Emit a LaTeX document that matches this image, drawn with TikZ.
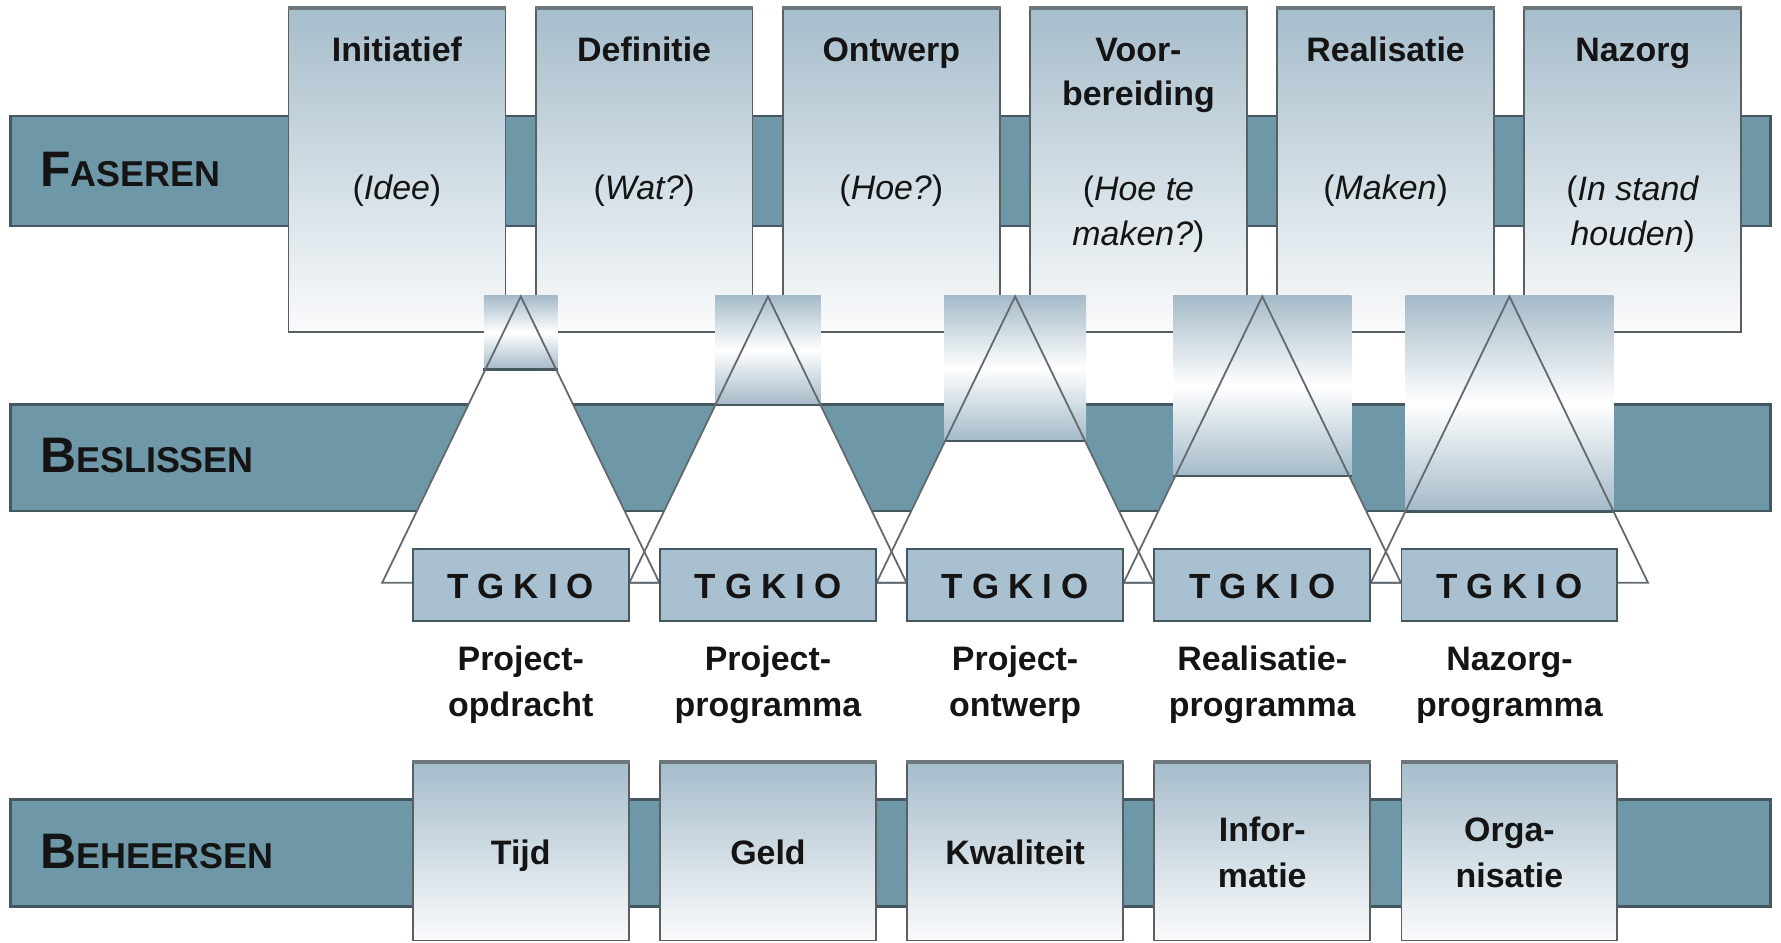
\documentclass[tikz,border=0pt]{standalone}
\usepackage{fontspec}
\setmainfont{Liberation Sans}
\definecolor{barfill}{HTML}{6E98A8}
\definecolor{bardraw}{HTML}{455860}
\definecolor{boxtop}{HTML}{A6BDCB}
\definecolor{boxbot}{HTML}{FAFBFC}
\definecolor{boxdraw}{HTML}{5A5F62}
\definecolor{boxedge}{HTML}{6C767B}
\definecolor{tgfill}{HTML}{A8C0CF}
\definecolor{beam}{HTML}{A4BAC8}
\definecolor{triline}{HTML}{626A6F}
\definecolor{ink}{HTML}{141414}
\begin{document}
\begin{tikzpicture}[x=0.02cm,y=-0.02cm,
  barnode/.style={draw=bardraw,fill=barfill,line width=1.2pt,minimum width=31cm,inner sep=0pt},
  phasebox/.style={draw=boxdraw,line width=0.9pt,top color=boxtop,bottom color=boxbot,minimum width=3.82cm,minimum height=5.68cm,inner sep=0pt},
  tgbox/.style={draw=bardraw,line width=0.9pt,fill=tgfill,minimum width=3.8cm,minimum height=1.28cm,inner sep=0pt},
  ctrlbox/.style={draw=boxdraw,line width=0.9pt,top color=boxtop,bottom color=boxbot,minimum width=3.8cm,minimum height=3.12cm,inner sep=0pt},
  beambox/.style={top color=beam,bottom color=beam,middle color=white,inner sep=0pt},
  beamline/.style={draw=bardraw,line width=1.1pt},
  topedge/.style={draw=boxedge,line width=2pt},
  trifill/.style={fill=white},
  triline/.style={draw=triline,line width=0.9pt,line join=miter},
  barlbl/.style={anchor=base west,inner sep=0pt,text=ink,font=\bfseries},
  phtitle/.style={anchor=base,inner sep=0pt,text=ink,align=center,font=\fontsize{17}{22.2}\selectfont\bfseries},
  phsub/.style={anchor=base,inner sep=0pt,text=ink,align=center,font=\fontsize{17}{22.7}\selectfont},
  tgtext/.style={anchor=base,inner sep=0pt,text=ink,font=\fontsize{17.5}{20}\selectfont\bfseries},
  doclbl/.style={anchor=base,inner sep=0pt,text=ink,align=center,font=\fontsize{17}{23.2}\selectfont\bfseries},
  ctrltext/.style={anchor=base,inner sep=0pt,text=ink,align=center,font=\fontsize{17}{22.7}\selectfont\bfseries}
]
\useasboundingbox (0,0) rectangle (1568,830);

% bars
\node[barnode,minimum height=1.94cm] (fbar) at (784,150.5) {};
\node[barnode,minimum height=1.88cm] (bbar) at (784,403) {};
\node[barnode,minimum height=1.88cm] (hbar) at (784,751) {};

\node[barlbl] (flbl) at (35,164) {{\fontsize{25}{25}\selectfont F}{\fontsize{18}{18}\selectfont ASEREN}};
\node[barlbl] (blbl) at (35,416) {{\fontsize{25}{25}\selectfont B}{\fontsize{18}{18}\selectfont ESLISSEN}};
\node[barlbl] (hlbl) at (35,765) {{\fontsize{25}{25}\selectfont B}{\fontsize{18}{18}\selectfont EHEERSEN}};

% phase boxes
\foreach \i/\cx in {0/349.5,1/567.1,2/784.7,3/1002.3,4/1219.9,5/1437.5}{
  \node[phasebox] (p\i) at (\cx,150) {};
  \draw[topedge] (p\i.north west) -- (p\i.north east);
}
\node[phtitle] (pt0) at (349.5,54) {Initiatief};
\node[phtitle] (pt1) at (567.1,54) {Definitie};
\node[phtitle] (pt2) at (784.7,54) {Ontwerp};
\node[phtitle] (pt3) at (1002.3,93.2) {Voor-\\bereiding};
\node[phtitle] (pt4) at (1219.9,54) {Realisatie};
\node[phtitle] (pt5) at (1437.5,54) {Nazorg};

\node[phsub] (ps0) at (349.5,176) {(\textit{Idee})};
\node[phsub] (ps1) at (567.1,176) {(\textit{Wat?})};
\node[phsub] (ps2) at (784.7,176) {(\textit{Hoe?})};
\node[phsub] (ps3) at (1002.3,216) {(\textit{Hoe te}\\\textit{maken?})};
\node[phsub] (ps4) at (1219.9,176) {(\textit{Maken})};
\node[phsub] (ps5) at (1437.5,216) {(\textit{In stand}\\\textit{houden})};

% triangle fills
\foreach \i/\cx in {0/458.5,1/676.1,2/893.7,3/1111.3,4/1328.9}{
  \coordinate (apex\i) at (\cx,261);
  \coordinate (bl\i) at (\cx-122,513);
  \coordinate (br\i) at (\cx+122,513);
  \fill[trifill] (apex\i) -- (bl\i) -- (br\i) -- cycle;
}

% beams
\foreach \i/\cx/\cy/\w/\h in {0/458.5/292.5/1.30/1.30,1/676.1/308/1.86/1.92,2/893.7/324/2.50/2.56,3/1111.3/339.5/3.14/3.18,4/1328.9/355/3.66/3.80}{
  \node[beambox,minimum width=\w cm,minimum height=\h cm] (beam\i) at (\cx,\cy) {};
  \draw[beamline] (beam\i.south west) -- (beam\i.south east);
}

% triangle outlines
\foreach \i in {0,1,2,3,4}{
  \draw[triline] (apex\i) -- (bl\i) -- (br\i) -- cycle;
}

% TGKIO boxes
\foreach \i/\cx in {0/458.5,1/676.1,2/893.7,3/1111.3,4/1328.9}{
  \node[tgbox] (tg\i) at (\cx,515) {};
  \node[tgtext] (tgt\i) at (\cx,527) {T\kern4.5pt G\kern4.5pt K\kern4.5pt I\kern4.5pt O};
}

% document labels
\node[doclbl] (d0) at (458.5,631) {Project-\\opdracht};
\node[doclbl] (d1) at (676.1,631) {Project-\\programma};
\node[doclbl] (d2) at (893.7,631) {Project-\\ontwerp};
\node[doclbl] (d3) at (1111.3,631) {Realisatie-\\programma};
\node[doclbl] (d4) at (1328.9,631) {Nazorg-\\programma};

% control boxes
\foreach \i/\cx in {0/458.5,1/676.1,2/893.7,3/1111.3,4/1328.9}{
  \node[ctrlbox] (c\i) at (\cx,750) {};
  \draw[topedge] (c\i.north west) -- (c\i.north east);
}
\node[ctrltext] (ct0) at (458.5,761) {Tijd};
\node[ctrltext] (ct1) at (676.1,761) {Geld};
\node[ctrltext] (ct2) at (893.7,761) {Kwaliteit};
\node[ctrltext] (ct3) at (1111.3,781) {Infor-\\matie};
\node[ctrltext] (ct4) at (1328.9,781) {Orga-\\nisatie};
\end{tikzpicture}
\end{document}
